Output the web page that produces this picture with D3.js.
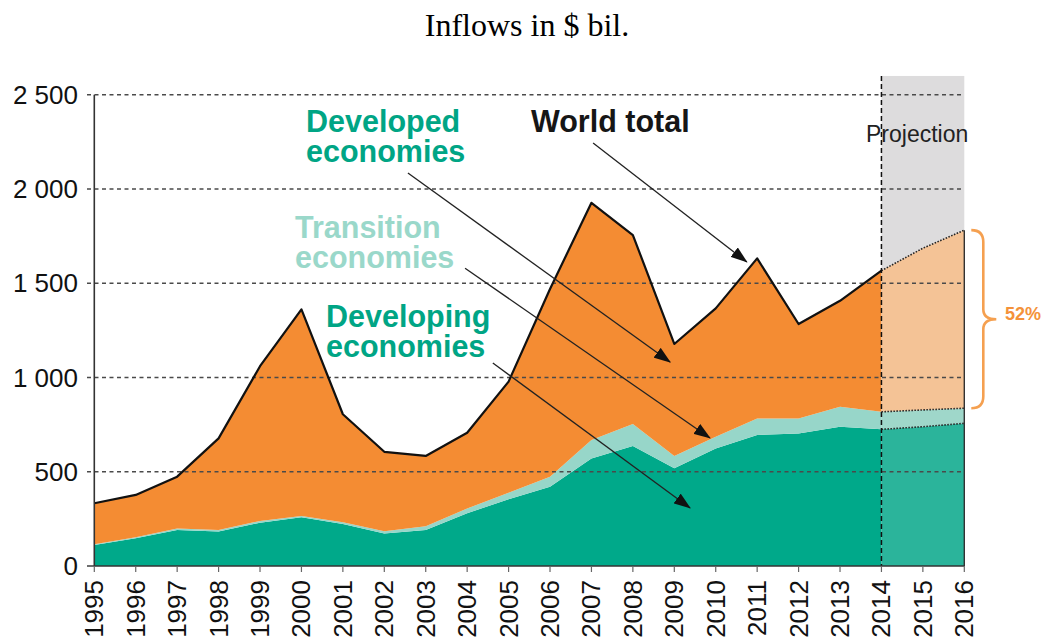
<!DOCTYPE html>
<html>
<head>
<meta charset="utf-8">
<script src="https://cdn.jsdelivr.net/npm/d3@7"></script>
<style>
  body { margin: 0; background: #fff; }
</style>
</head>
<body>
<div id="chart"></div>
<script>
// data ($ bil.)
var years = [1995, 1996, 1997, 1998, 1999, 2000, 2001, 2002, 2003, 2004, 2005,
  2006, 2007, 2008, 2009, 2010, 2011, 2012, 2013, 2014, 2015, 2016];
var developing = [111, 147, 191, 183, 230, 258, 223, 173, 191, 280, 354,
  421, 571, 637, 518, 624, 695, 703, 739, 725, 739, 757];
var transition = [4, 6, 8, 8, 9, 7, 9, 11, 20, 25, 35,
  53, 97, 116, 66, 62, 88, 80, 106, 93, 89, 80];
var developed = [218, 224, 275, 486, 821, 1097, 573, 422, 373, 402, 589,
  996, 1259, 1003, 594, 681, 849, 501, 562, 749, 858, 945];
var yTicks = [0, 500, 1000, 1500, 2000, 2500];
var yTickLabels = ["0", "500", "1 000", "1 500", "2 000", "2 500"];
var projectionStart = 2014;
var growthLabel = "52%";

// set the dimensions of the svg
var W = 1044, H = 644;
var svg = d3.select("#chart")
  .append("svg")
  .attr("width", W)
  .attr("height", H)
  .style("font-family", "'Liberation Sans', Arial, sans-serif");

var x = d3.scaleLinear().domain([1995, 2016]).range([94.3, 964.3]);
var y = d3.scaleLinear().domain([0, 2500]).range([566, 94.8]);

// build table for the stack
var rows = years.map(function (yr, i) {
  return { year: yr, developing: developing[i], transition: transition[i], developed: developed[i] };
});
var keys = ["developing", "transition", "developed"];
var series = d3.stack().keys(keys)(rows);
var world = rows.map(function (d) { return { year: d.year, v: d.developing + d.transition + d.developed }; });

var histColor = { developing: "#00a98a", transition: "#97d6c9", developed: "#f48c33" };
var projColor = { developing: "#2bb49b", transition: "#9fd7ca", developed: "#f8be8a" };

var defs = svg.append("defs");
defs.append("clipPath").attr("id", "clip-hist")
  .append("rect").attr("x", 0).attr("y", 0)
  .attr("width", x(projectionStart)).attr("height", H);
defs.append("clipPath").attr("id", "clip-proj")
  .append("rect").attr("x", x(projectionStart)).attr("y", 0)
  .attr("width", x(2016) - x(projectionStart)).attr("height", H);
defs.append("marker")
  .attr("id", "arrow")
  .attr("markerUnits", "userSpaceOnUse")
  .attr("markerWidth", 17).attr("markerHeight", 12)
  .attr("refX", 16).attr("refY", 6)
  .attr("orient", "auto")
  .append("path")
  .attr("d", "M0,0 L17,6 L0,12 Z")
  .attr("fill", "#111");

// title
svg.append("text")
  .attr("x", 527).attr("y", 36)
  .attr("text-anchor", "middle")
  .style("font-family", "'Liberation Serif', 'Times New Roman', serif")
  .attr("font-size", 32)
  .attr("fill", "#000")
  .text("Inflows in $ bil.");

// projection background
svg.append("rect")
  .attr("x", x(projectionStart))
  .attr("y", y(2600))
  .attr("width", x(2016) - x(projectionStart))
  .attr("height", y(0) - y(2600))
  .attr("fill", "#dddcdd");

var area = d3.area()
  .x(function (d) { return x(d.data.year); })
  .y0(function (d) { return y(d[0]); })
  .y1(function (d) { return y(d[1]); });

// historical areas
svg.append("g").attr("clip-path", "url(#clip-hist)")
  .selectAll("path")
  .data(series)
  .enter().append("path")
  .attr("d", area)
  .attr("fill", function (d) { return histColor[d.key]; });

// projected areas (bottom two)
var projG = svg.append("g").attr("clip-path", "url(#clip-proj)");
projG.selectAll("path")
  .data(series.filter(function (s) { return s.key != "developed"; }))
  .enter().append("path")
  .attr("d", area)
  .attr("fill", function (d) { return projColor[d.key]; });

// gridlines
svg.append("g")
  .selectAll("line")
  .data(yTicks)
  .enter().append("line")
  .attr("x1", 87)
  .attr("x2", function (d) { return d == 0 ? x(1995) : x(2016); })
  .attr("y1", function (d) { return y(d); })
  .attr("y2", function (d) { return y(d); })
  .attr("stroke", "#4a4a4a")
  .attr("stroke-width", 1.6)
  .attr("stroke-dasharray", function (d) { return d == 0 ? null : "4,3.5"; });

// projected developed area on top, slightly see-through
projG.append("path")
  .datum(series[2])
  .attr("d", area)
  .attr("fill", projColor.developed)
  .attr("fill-opacity", 0.85);

// lines
var line = d3.line()
  .x(function (d) { return x(d.year); })
  .y(function (d) { return y(d.v); });

svg.append("path")
  .datum(world.filter(function (d) { return d.year <= projectionStart; }))
  .attr("d", line)
  .attr("fill", "none")
  .attr("stroke", "#111")
  .attr("stroke-width", 2.2)
  .attr("stroke-linejoin", "round");

var projBounds = [
  world,
  rows.map(function (d) { return { year: d.year, v: d.developing + d.transition }; }),
  rows.map(function (d) { return { year: d.year, v: d.developing }; })
];
svg.append("g").selectAll("path")
  .data(projBounds)
  .enter().append("path")
  .attr("d", function (d) { return line(d.filter(function (p) { return p.year >= projectionStart; })); })
  .attr("fill", "none")
  .attr("stroke", "#222")
  .attr("stroke-width", 1.6)
  .attr("stroke-dasharray", "1.5,1.5");

// right edge of projection
svg.append("line")
  .attr("x1", x(2016)).attr("x2", x(2016))
  .attr("y1", y(0)).attr("y2", y(world[world.length - 1].v))
  .attr("stroke", "#333")
  .attr("stroke-width", 1.4);

// projection divider
svg.append("line")
  .attr("x1", x(projectionStart)).attr("x2", x(projectionStart))
  .attr("y1", y(2600)).attr("y2", y(0))
  .attr("stroke", "#111")
  .attr("stroke-width", 1.5)
  .attr("stroke-dasharray", "5,3");

// axes
svg.append("line")
  .attr("x1", x(1995)).attr("x2", x(1995))
  .attr("y1", y(2500)).attr("y2", y(0))
  .attr("stroke", "#333").attr("stroke-width", 1.6);
svg.append("line")
  .attr("x1", x(1995)).attr("x2", x(2016))
  .attr("y1", y(0)).attr("y2", y(0))
  .attr("stroke", "#333").attr("stroke-width", 1.6);

svg.append("g").selectAll("line")
  .data(years)
  .enter().append("line")
  .attr("x1", function (d) { return x(d); })
  .attr("x2", function (d) { return x(d); })
  .attr("y1", y(0)).attr("y2", y(0) + 6)
  .attr("stroke", "#666").attr("stroke-width", 1.2);

svg.append("g").selectAll("text")
  .data(yTicks)
  .enter().append("text")
  .attr("x", 78)
  .attr("y", function (d) { return y(d) + 9; })
  .attr("text-anchor", "end")
  .attr("font-size", 26)
  .attr("fill", "#111")
  .text(function (d, i) { return yTickLabels[i]; });

svg.append("g").selectAll("text")
  .data(years)
  .enter().append("text")
  .attr("transform", function (d) { return "translate(" + (x(d) + 9) + ",580) rotate(-90)"; })
  .attr("text-anchor", "end")
  .attr("font-size", 26)
  .attr("fill", "#111")
  .text(function (d) { return d; });

// projection label
svg.append("text")
  .attr("x", 866).attr("y", 142)
  .attr("font-size", 23)
  .attr("fill", "#222")
  .text("Projection");

// brace showing projected growth
var bTop = y(world[world.length - 1].v),
  bBot = y(projBounds[1][projBounds[1].length - 1].v),
  bMid = (bTop + bBot) / 2,
  bx = x(2016) + 7;
svg.append("path")
  .attr("d", "M" + bx + "," + bTop +
    " Q" + (bx + 12) + "," + bTop + " " + (bx + 12) + "," + (bTop + 12) +
    " L" + (bx + 12) + "," + (bMid - 10) +
    " Q" + (bx + 12) + "," + bMid + " " + (bx + 25) + "," + bMid +
    " Q" + (bx + 12) + "," + bMid + " " + (bx + 12) + "," + (bMid + 10) +
    " L" + (bx + 12) + "," + (bBot - 12) +
    " Q" + (bx + 12) + "," + bBot + " " + bx + "," + bBot)
  .attr("fill", "none")
  .attr("stroke", "#f5a050")
  .attr("stroke-width", 2.6);
svg.append("text")
  .attr("x", 1005).attr("y", bMid + 1)
  .attr("font-size", 18)
  .attr("font-weight", "bold")
  .attr("fill", "#f4923a")
  .text(growthLabel);

// labels and arrows (arrow ends in data units)
var notes = [
  { lines: ["World total"], color: "#161616", tx: 531, ty: 132, from: [2007.04, 2244], to: [2010.75, 1613] },
  { lines: ["Developed", "economies"], color: "#00a585", tx: 306, ty: 132, from: [2002.57, 2085], to: [2008.9, 1082] },
  { lines: ["Transition", "economies"], color: "#9ad8ca", tx: 295, ty: 238, from: [2003.95, 1580], to: [2009.86, 679] },
  { lines: ["Developing", "economies"], color: "#00a585", tx: 326, ty: 327, from: [2004.62, 1077], to: [2009.38, 308] }
];

svg.append("g").selectAll("line")
  .data(notes)
  .enter().append("line")
  .attr("x1", function (d) { return x(d.from[0]); })
  .attr("y1", function (d) { return y(d.from[1]); })
  .attr("x2", function (d) { return x(d.to[0]); })
  .attr("y2", function (d) { return y(d.to[1]); })
  .attr("stroke", "#222")
  .attr("stroke-width", 1.3)
  .attr("marker-end", "url(#arrow)");

var noteText = svg.append("g").selectAll("text")
  .data(notes)
  .enter().append("text")
  .attr("x", function (d) { return d.tx; })
  .attr("y", function (d) { return d.ty; })
  .attr("font-size", 30.5)
  .attr("font-weight", "bold")
  .attr("fill", function (d) { return d.color; });
noteText.selectAll("tspan")
  .data(function (d) { return d.lines.map(function (l) { return { l: l, x: d.tx }; }); })
  .enter().append("tspan")
  .attr("x", function (d) { return d.x; })
  .attr("dy", function (d, i) { return i == 0 ? 0 : 30; })
  .text(function (d) { return d.l; });
</script>
</body>
</html>
